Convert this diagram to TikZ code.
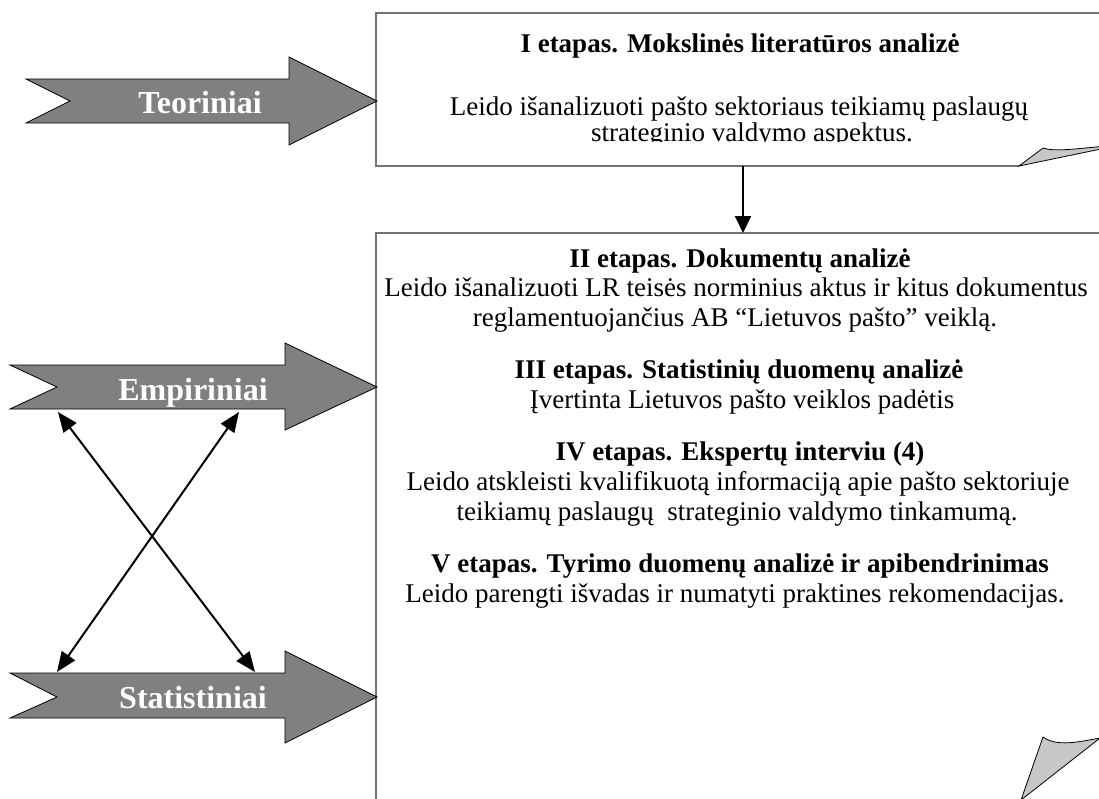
\documentclass[tikz,border=0pt]{standalone}
\usepackage{fontspec}
\setmainfont{Liberation Serif}
\usetikzlibrary{arrows.meta}
\begin{document}
\begin{tikzpicture}[x=1pt,y=-1pt,
  blockarrow/.style={fill=black!50, draw=black, line width=0.8pt, line join=miter},
  arrowlabel/.style={text=white, font=\fontsize{32}{36}\selectfont\bfseries, anchor=base, inner sep=0pt},
  stagebox/.style={draw=black!55, line width=1.4pt},
  fold/.style={fill=black!22, draw=black, line width=0.8pt, line join=miter},
  txt/.style={font=\fontsize{27}{30}\selectfont, anchor=base, inner sep=0pt},
  head/.style={txt, font=\fontsize{27}{30}\selectfont\bfseries},
  link/.style={line width=2pt, {Triangle[length=20pt,width=16pt]}-{Triangle[length=20pt,width=16pt]}},
  flow/.style={line width=2pt, -{Triangle[length=17pt,width=16pt]}}
]
\useasboundingbox (0,0) rectangle (1099,798);
\clip (0,0) rectangle (1099,798);

% stage boxes (their right and lower parts run past the page)
\draw[stagebox] (1120,13) -- (376,13) -- (376,166) -- (1019,166);
\draw[fold] (1019,166) -- (1043,148) .. controls (1055,152) and (1075,149) .. (1125,144) -- cycle;
\draw[stagebox] (1120,233) -- (376,233) -- (376,810);
\draw[fold] (1021,800) -- (1043,737) .. controls (1057,747) and (1078,742) .. (1100,738) -- cycle;

% flow between the stages
\coordinate (s1) at (743,166);
\coordinate (s2) at (743,233);
\draw[flow] (s1) -- (s2);

% block arrows
\draw[blockarrow] (26,79) -- (289,79) -- (289,57) -- (377,101) -- (289,145) -- (289,123) -- (26,123) -- (70,101) -- cycle;
\node[arrowlabel] (teor) at (200,113) {Teoriniai};
\draw[blockarrow] (10,365) -- (285,365) -- (285,343) -- (377,387) -- (285,430) -- (285,409) -- (10,409) -- (57,387) -- cycle;
\node[arrowlabel] (emp) at (193,400) {Empiriniai};
\draw[blockarrow] (10,673) -- (285,673) -- (285,651) -- (377,697) -- (285,743) -- (285,718) -- (10,718) -- (57,697) -- cycle;
\node[arrowlabel] (stat) at (193,708) {Statistiniai};

% links between the empirical and statistical methods
\coordinate (empL) at (58,412);
\coordinate (empR) at (239,412);
\coordinate (statL) at (57,672);
\coordinate (statR) at (255,672);
\draw[link] (empL) -- (statR);
\draw[link] (empR) -- (statL);

% stage I text
\node[head] (h1) at (740,52) {I etapas. Mokslinės literatūros analizė};
\begin{scope}
  \clip (376,13) rectangle (1099,141.5);
  \node[txt] (b1a) at (739,115) {Leido išanalizuoti pašto sektoriaus teikiamų paslaugų};
  \node[txt] (b1b) at (752,141) {strateginio valdymo aspektus.};
\end{scope}

% stages II--V text
\node[head] (h2) at (740,267) {II etapas. Dokumentų analizė};
\node[txt] (b2a) at (736,296) {Leido išanalizuoti LR teisės norminius aktus ir kitus dokumentus};
\node[txt] (b2b) at (735,326) {reglamentuojančius AB “Lietuvos pašto” veiklą.};
\node[head] (h3) at (739,378) {III etapas. Statistinių duomenų analizė};
\node[txt] (b3) at (742,408) {Įvertinta Lietuvos pašto veiklos padėtis};
\node[head] (h4) at (740,460) {IV etapas. Ekspertų interviu (4)};
\node[txt] (b4a) at (738,490) {Leido atskleisti kvalifikuotą informaciją apie pašto sektoriuje};
\node[txt] (b4b) at (737,520) {teikiamų paslaugų\ \ strateginio valdymo tinkamumą.};
\node[head] (h5) at (740,572) {V etapas. Tyrimo duomenų analizė ir apibendrinimas};
\node[txt] (b5) at (735,602) {Leido parengti išvadas ir numatyti praktines rekomendacijas.};
\end{tikzpicture}
\end{document}
